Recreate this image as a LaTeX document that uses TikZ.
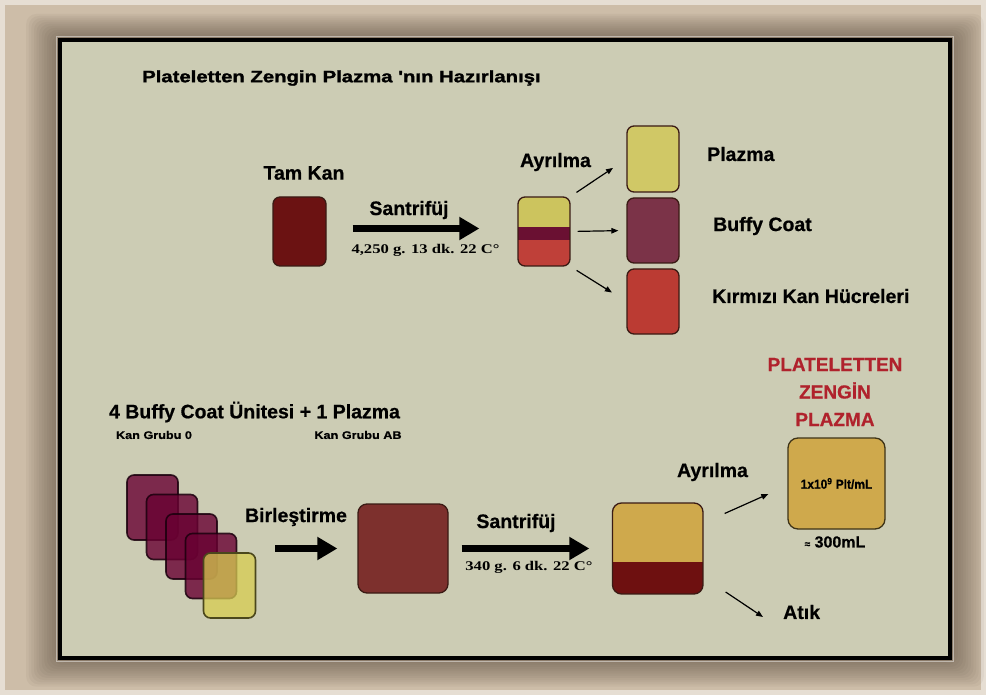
\documentclass[tikz,border=0pt]{standalone}
\usepackage{graphicx}
\usepackage{fontspec}
\setmainfont{Liberation Sans}[BoldFeatures={FakeBold=0.6}]
\newfontfamily\heavy{Liberation Sans}[BoldFeatures={FakeBold=1.4}]
\newfontfamily\serifw{Liberation Serif}[FakeStretch=1.25]
\usetikzlibrary{arrows.meta,calc}
\definecolor{outerbg}{HTML}{CDBDA8}
\definecolor{shadowc}{HTML}{4A3C2E}
\definecolor{panel}{HTML}{CCCCB4}
\definecolor{darkred}{HTML}{6B1212}
\definecolor{cyel}{HTML}{CCC45E}
\definecolor{cband}{HTML}{6A1032}
\definecolor{cred}{HTML}{BF4039}
\definecolor{plyel}{HTML}{D0C866}
\definecolor{buffy}{HTML}{7B3348}
\definecolor{rbc}{HTML}{BB3B33}
\definecolor{cardc}{HTML}{690132}
\definecolor{cardy}{HTML}{D7CC51}
\definecolor{bigbox}{HTML}{7D302D}
\definecolor{gold}{HTML}{CFA94C}
\definecolor{waste}{HTML}{6E1010}
\definecolor{prpred}{HTML}{B0222C}
\definecolor{bord}{HTML}{3A1A14}
\tikzset{
  lbl/.style={font=\fontsize{19.5}{22}\selectfont\bfseries, inner sep=0pt},
  small/.style={font=\fontsize{11}{13}\selectfont\bfseries, inner sep=0pt},
  cond/.style={font=\serifw\fontsize{13.3}{15}\selectfont\bfseries, inner sep=0pt},
  box/.style={rounded corners=7pt, line width=1.3pt, inner sep=0pt, draw=bord},
  card/.style={box, line width=1.6pt, minimum width=51pt, minimum height=65pt, fill=cardc, fill opacity=0.8, draw=black!75!cardc, draw opacity=0.85},
  bigarrow/.style={line width=7.5pt, -{Triangle[length=20pt,width=22pt]}},
  smallarrow/.style={line width=1.2pt, -{Triangle[length=7pt,width=5.5pt]}},
}
\begin{document}
\begin{tikzpicture}[x=1pt,y=-1pt]
\useasboundingbox (0,0) rectangle (986,695);
% background and shadow
\fill[outerbg] (0,0) rectangle (986,695);
\draw[white, opacity=0.5, line width=10pt] (0,0) rectangle (986,695);
\foreach \i in {0,...,13} {
  \fill[shadowc, opacity=0.05, rounded corners=10pt] (60-2.6*\i, 40-2*\i) rectangle (950+2.6*\i, 658+2.2*\i);
}
\draw[white, opacity=0.45, line width=1.5pt] (56.5,36.5) rectangle (953.5,661.5);
\draw[fill=panel, line width=4pt] (60,40) rectangle (950,658);

% title
\node[anchor=west, inner sep=0pt, font=\heavy\fontsize{16.5}{19}\selectfont\bfseries] (title) at (142,78)
  {\scalebox{1.23}[1]{Plateletten Zengin Plazma 'nın Hazırlanışı}};

% top row
\node[lbl] (tamkanlbl) at (304,173) {Tam Kan};
\node[box, fill=darkred, minimum width=53pt, minimum height=69pt] (tamkan) at (299.5,231.5) {};
\node[box, minimum width=52pt, minimum height=69pt, path picture={
    \fill[cyel, sharp corners] (path picture bounding box.north west) rectangle ([yshift=-30pt]path picture bounding box.north east);
    \fill[cband, sharp corners] ([yshift=-30pt]path picture bounding box.north west) rectangle ([yshift=-43pt]path picture bounding box.north east);
    \fill[cred, sharp corners] ([yshift=-43pt]path picture bounding box.north west) rectangle (path picture bounding box.south east);
  }] (sep1) at (544,231.5) {};
\node[lbl] (santri1) at (409,210) {Santrifüj};
\node[cond] (cond1) at (425.5,250) {4,250 g. 13 dk. 22 C°};
\node[lbl] (ayr1) at (555.5,162) {Ayrılma};
\draw[bigarrow, shorten <=26pt, shorten >=38pt] ([yshift=3pt]tamkan.east) -- ([yshift=3pt]sep1.west);

\node[box, fill=plyel, minimum width=52pt, minimum height=66pt] (plazma) at (653,159) {};
\node[box, fill=buffy, minimum width=52pt, minimum height=65pt] (buffy) at (653,230.5) {};
\node[box, fill=rbc, minimum width=52pt, minimum height=65pt] (rbcbox) at (653,301.5) {};
\node[lbl, anchor=west] (plazmalbl) at (707,154) {Plazma};
\node[lbl, anchor=west] (buffylbl) at (713,226) {Buffy Coat};
\node[lbl, anchor=west] (rbclbl) at (712,296) {Kırmızı Kan Hücreleri};
\draw[smallarrow, shorten <=7pt, shorten >=16pt] (sep1.north east) -- (plazma.west);
\draw[smallarrow, shorten <=7pt, shorten >=8pt] (sep1.east) -- (buffy.west);
\draw[smallarrow, shorten <=7pt, shorten >=17pt] (sep1.south east) -- (rbcbox.west);

% bottom row
\node[lbl] (units) at (254.5,412) {4 Buffy Coat Ünitesi + 1 Plazma};
\node[small] (grp0) at (154,435) {\scalebox{1.15}[1]{Kan Grubu 0}};
\node[small] (grpab) at (358,435) {\scalebox{1.15}[1]{Kan Grubu AB}};

\node[card] (c1) at (152.5,507.5) {};
\node[card] (c2) at (172,527) {};
\node[card] (c3) at (191.5,546.5) {};
\node[card] (c4) at (211,566) {};
\node[box, line width=1.6pt, minimum width=52pt, minimum height=65pt, fill=cardy, fill opacity=0.75, draw=black!65!cardy] (cy) at (229.5,585.5) {};

\node[lbl] (birl) at (296,517) {Birleştirme};
\node[box, fill=bigbox, minimum width=90pt, minimum height=89pt, rounded corners=9pt] (box1) at (403,548.5) {};
\draw[bigarrow, shorten <=19pt, shorten >=20pt] (cy.east |- box1.west) -- (box1.west);

\node[lbl] (santri2) at (516,523) {Santrifüj};
\node[cond] (cond2) at (529,567) {340 g. 6 dk. 22 C°};
\node[box, minimum width=90.5pt, minimum height=91pt, rounded corners=9pt, path picture={
    \fill[gold, sharp corners] (path picture bounding box.north west) rectangle ([yshift=-59pt]path picture bounding box.north east);
    \fill[waste, sharp corners] ([yshift=-59pt]path picture bounding box.north west) rectangle (path picture bounding box.south east);
  }] (box2) at (657.75,548.5) {};
\draw[bigarrow, shorten <=13pt, shorten >=22.5pt] (box1.east) -- (box2.west);

\node[lbl] (ayr2) at (712.5,472) {Ayrılma};
\node[box, fill=gold, minimum width=97pt, minimum height=91pt, rounded corners=10pt, draw=black!70!gold] (prp) at (836.5,483.5)
  {\fontsize{13}{15}\selectfont\bfseries\scalebox{0.92}[1]{1x10\textsuperscript{9} Plt/mL}};
\node[inner sep=0pt, font=\fontsize{16}{18}\selectfont\bfseries] (vol) at (835,542) {{\fontsize{10}{10}\selectfont ≈} 300mL};
\node[inner sep=0pt, align=center, text=prpred, font=\fontsize{19}{27.5}\selectfont\bfseries] (prptitle) at (835,392) {PLATELETTEN\\ZENGİN\\PLAZMA};
\node[lbl, anchor=west] (atik) at (783,612) {Atık};
\draw[smallarrow] ([shift={(21,-35)}]box2.east) -- ([shift={(-19,0)}]prp.west |- 0,494);
\draw[smallarrow] ([shift={(22,43.5)}]box2.east) -- ([shift={(-20,5)}]atik.west);
\end{tikzpicture}
\end{document}
